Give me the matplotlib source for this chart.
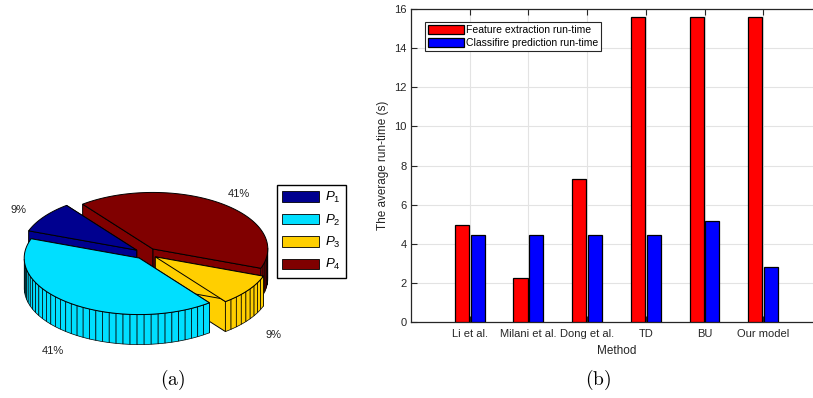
import numpy as np
import matplotlib
matplotlib.use("Agg")
import matplotlib.pyplot as plt
from matplotlib.patches import Polygon, Patch

plt.rcParams['font.family'] = ['Liberation Sans', 'DejaVu Sans']
plt.rcParams['mathtext.fontset'] = 'custom'
plt.rcParams['mathtext.it'] = 'Liberation Sans:italic'
plt.rcParams['mathtext.rm'] = 'Liberation Sans'

# ---------------- data ----------------
pie_labels = ['$P_1$', '$P_2$', '$P_3$', '$P_4$']
pie_values = [9, 41, 9, 41]
pie_colors = [(0, 0, 0.5625), (0, 0.875, 1.0), (1.0, 0.8125, 0), (0.5, 0, 0)]

methods = ['Li et al.', 'Milani et al.', 'Dong et al.', 'TD', 'BU', 'Our model']
feature_time = [4.95, 2.25, 7.3, 15.6, 15.6, 15.6]
classifier_time = [4.45, 4.45, 4.45, 4.45, 5.18, 2.83]
series_names = ['Feature extraction run-time', 'Classifire prediction run-time']

W, H = 813, 398
fig = plt.figure(figsize=(W / 100, H / 100), dpi=100)

# ---------------- (a) 3D exploded pie ----------------
axp = fig.add_axes([0, 0, 300 / W, 1])
axp.set_xlim(0, 300)
axp.set_ylim(H, 0)
axp.axis('off')

cx, cy = 146.0, 253.5
rx, ry = 115.0, 56.5
depth = 30.0
explode = 0.1
start_angle = 127.6
step = 3.6

def pt(theta, r, z, off):
    t = np.deg2rad(theta)
    return (cx + off[0] + r * rx * np.cos(t), cy + off[1] - r * ry * np.sin(t) + z)

total = float(sum(pie_values))
slices = []
a = start_angle
for v, c in zip(pie_values, pie_colors):
    span = v / total * 360.0
    a0, a1 = a, a + span
    m = np.deg2rad((a0 + a1) / 2)
    off = (explode * rx * np.cos(m), -explode * ry * np.sin(m))
    slices.append(dict(a0=a0, a1=a1, m=m, off=off, c=c, v=v))
    a = a1

# draw back-to-front
order = sorted(range(len(slices)), key=lambda i: -np.sin(slices[i]['m']))
ek = dict(edgecolor='black', linewidth=0.7)
for i in order:
    s = slices[i]
    a0, a1, off, c = s['a0'], s['a1'], s['off'], s['c']
    # radial walls
    for ang in (a0, a1):
        quad = [pt(ang, 0, 0, off), pt(ang, 1, 0, off), pt(ang, 1, depth, off), pt(ang, 0, depth, off)]
        axp.add_patch(Polygon(quad, closed=True, facecolor=c, **ek))
    # outer walls (front part), striped
    n = int(np.ceil((a1 - a0) / step))
    th = np.linspace(a0, a1, n + 1)
    for t0, t1 in zip(th[:-1], th[1:]):
        if np.sin(np.deg2rad((t0 + t1) / 2)) < 0:
            quad = [pt(t0, 1, 0, off), pt(t1, 1, 0, off), pt(t1, 1, depth, off), pt(t0, 1, depth, off)]
            axp.add_patch(Polygon(quad, closed=True, facecolor=c, edgecolor='black', linewidth=0.5))
    # top face
    arc = [pt(t, 1, 0, off) for t in np.linspace(a0, a1, 200)]
    top = [pt(a0, 0, 0, off)] + arc
    axp.add_patch(Polygon(top, closed=True, facecolor=c, **ek))

# percentage labels
kx, ky, front_drop = 1.37, 1.3, 38
for s in slices:
    pct = '%d%%' % round(s['v'] / total * 100)
    m = s['m']
    lx = cx + kx * rx * np.cos(m)
    ly = cy - ky * ry * np.sin(m) + (front_drop if np.sin(m) < 0 else 0)
    axp.text(lx, ly, pct, ha='center', va='center', fontsize=8, color='#222222', zorder=10)

handles = [Patch(facecolor=c, edgecolor='black', linewidth=0.6) for c in pie_colors]
leg = fig.legend(handles, pie_labels, loc='upper left',
                 bbox_to_anchor=(277 / W, 1 - 185 / H), borderaxespad=0,
                 fontsize=9.5, handlelength=2.8, handleheight=0.85,
                 labelspacing=0.55, handletextpad=0.4, borderpad=0.4,
                 fancybox=False, framealpha=1)
leg.get_frame().set_edgecolor('black')
leg.get_frame().set_linewidth(1.0)

# ---------------- (b) bar chart ----------------
ax_l, ax_b, ax_t = 411, 322, 9
xmax = 7
px_per_unit = 58.7
ax_r = ax_l + xmax * px_per_unit
ax = fig.add_axes([ax_l / W, 1 - ax_b / H, (ax_r - ax_l) / W, (ax_b - ax_t) / H])
x = np.arange(1, len(methods) + 1)
bw = 0.24
ax.bar(x - 0.135, feature_time, bw, color=(1, 0, 0), edgecolor='black', linewidth=0.9,
       label=series_names[0], zorder=3)
ax.bar(x + 0.135, classifier_time, bw, color=(0, 0, 1), edgecolor='black', linewidth=0.9,
       label=series_names[1], zorder=3)
ax.set_xlim(0, xmax)
ax.set_ylim(0, 16)
ax.set_xticks(x)
ax.set_xticklabels(methods)
ax.set_yticks(np.arange(0, 17, 2))
ax.grid(True, color='#e3e3e3', linewidth=0.8, zorder=0)
ax.set_axisbelow(True)
ax.tick_params(direction='in', length=4, width=0.8, colors='#262626', labelsize=8,
               top=True, right=True)
ax.tick_params(axis='y', pad=3)
ax.tick_params(axis='x', pad=5)
for sp in ax.spines.values():
    sp.set_color('#262626')
    sp.set_linewidth(0.9)
ax.set_xlabel('Method', fontsize=8.5, color='#262626', labelpad=4)
ax.set_ylabel('The average run-time (s)', fontsize=8.5, color='#262626', labelpad=4)
lg = ax.legend(loc='upper left', bbox_to_anchor=(425 / W, 1 - 22 / H),
               bbox_transform=fig.transFigure, borderaxespad=0, fontsize=7.5,
               handlelength=3.4, handleheight=0.9, labelspacing=0.3, handletextpad=0.2,
               borderpad=0.3, fancybox=False, framealpha=1)
lg.get_frame().set_edgecolor('#262626')
lg.get_frame().set_linewidth(0.8)

# sub captions
fig.text(173 / W, 1 - 380 / H, r'$\mathrm{(a)}$', ha='center', va='center', fontsize=14,
         math_fontfamily='cm')
fig.text(598 / W, 1 - 380 / H, r'$\mathrm{(b)}$', ha='center', va='center', fontsize=14,
         math_fontfamily='cm')

fig.savefig('out.png', dpi=100)
